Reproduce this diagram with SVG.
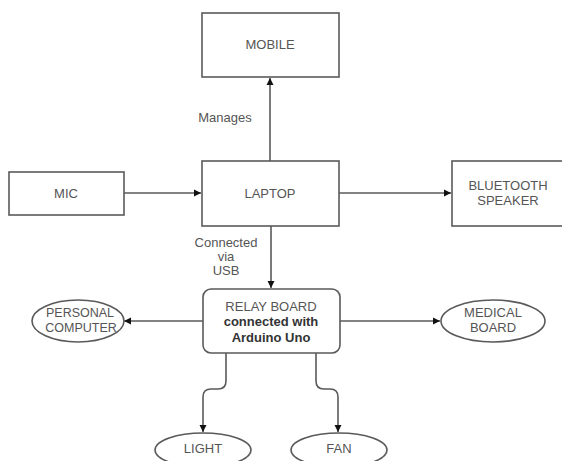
<svg xmlns="http://www.w3.org/2000/svg" width="562" height="461" viewBox="0 0 562 461">
<style>
.box{fill:#fff;stroke:#5a5a5a;stroke-width:1.6}
.t{font-family:"Liberation Sans",Arial,sans-serif;font-size:13px;fill:#555;text-anchor:middle}
.s{font-size:12.5px}
.b{font-weight:bold;fill:#333}
.c{fill:none;stroke:#5a5a5a;stroke-width:1.6}
</style>
<defs>
<marker id="ah" markerWidth="8" markerHeight="8" refX="7" refY="4" orient="auto" markerUnits="userSpaceOnUse">
<path d="M0,0.5 L7,4 L0,7.5 Z" fill="#111"/>
</marker>
</defs>
<rect width="562" height="461" fill="#fff"/>
<g id="connectors">
<path class="c" d="M270,161 V78" marker-end="url(#ah)"/>
<path class="c" d="M124,193 H201" marker-end="url(#ah)"/>
<path class="c" d="M339,193 H451" marker-end="url(#ah)"/>
<path class="c" d="M271,226 V288" marker-end="url(#ah)"/>
<path class="c" d="M203,321 H124" marker-end="url(#ah)"/>
<path class="c" d="M340,321 H440" marker-end="url(#ah)"/>
<path class="c" d="M226,353 V381 Q226,389 218,389 H211 Q203,389 203,397 V432" marker-end="url(#ah)"/>
<path class="c" d="M316,353 V381 Q316,389 324,389 H330 Q338,389 338,397 V432" marker-end="url(#ah)"/>
<text class="t" x="225" y="122">Manages</text>
<text class="t" x="226" y="247">Connected</text>
<text class="t" x="226" y="261">via</text>
<text class="t" x="226" y="275">USB</text>
</g>
<g id="mobile"><rect class="box" x="202" y="13" width="137" height="64"/><text class="t" x="270" y="49">MOBILE</text></g>
<g id="mic"><rect class="box" x="9" y="172" width="115" height="43"/><text class="t" x="66" y="198">MIC</text></g>
<g id="laptop"><rect class="box" x="202" y="161" width="137" height="65"/><text class="t" x="270" y="198">LAPTOP</text></g>
<g id="speaker"><rect class="box" x="452" y="161" width="115" height="65"/><text class="t" x="508" y="190">BLUETOOTH</text><text class="t" x="508" y="205">SPEAKER</text></g>
<g id="relay"><rect class="box" x="203" y="289" width="137" height="64" rx="8"/><text class="t" x="271" y="311">RELAY BOARD</text><text class="t b" x="271" y="326">connected with</text><text class="t b" x="271" y="342">Arduino Uno</text></g>
<g id="pc"><ellipse class="box" cx="78" cy="321" rx="46" ry="21"/><text class="t s" x="80" y="317">PERSONAL</text><text class="t s" x="81" y="332">COMPUTER</text></g>
<g id="medical"><ellipse class="box" cx="493" cy="321" rx="52" ry="21"/><text class="t" x="493" y="317">MEDICAL</text><text class="t" x="493" y="332">BOARD</text></g>
<g id="light"><ellipse class="box" cx="203" cy="450" rx="48" ry="17"/><text class="t" x="203" y="453">LIGHT</text></g>
<g id="fan"><ellipse class="box" cx="339" cy="450" rx="48" ry="17"/><text class="t" x="339" y="453">FAN</text></g>
</svg>
